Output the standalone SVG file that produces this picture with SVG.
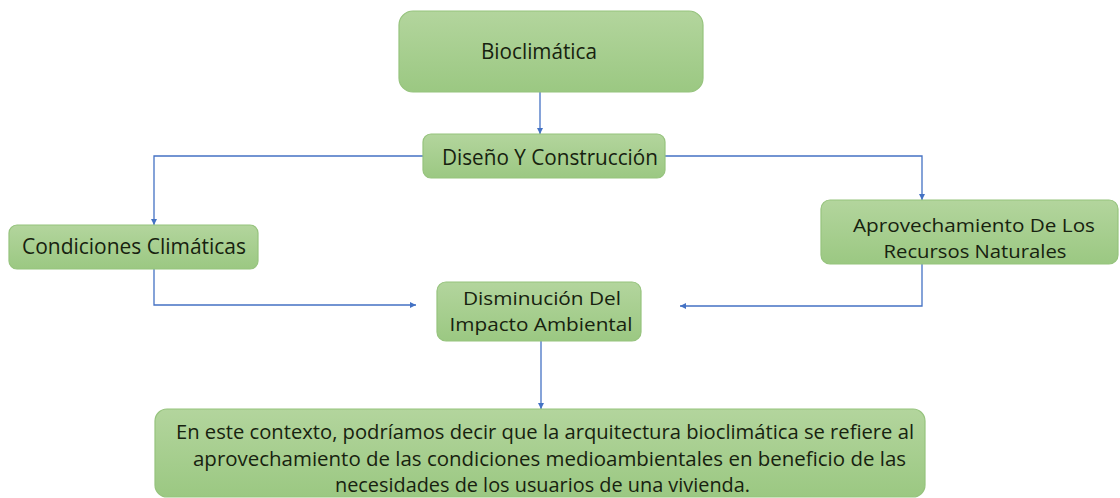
<svg xmlns="http://www.w3.org/2000/svg" width="1120" height="498" viewBox="0 0 1120 498">
<defs>
<linearGradient id="g" x1="0" y1="0" x2="0" y2="1">
<stop offset="0" stop-color="#b3d59d"/>
<stop offset="1" stop-color="#9bc882"/>
</linearGradient>
<marker id="ah" viewBox="0 0 10 10" refX="10" refY="5" markerWidth="6" markerHeight="6" markerUnits="userSpaceOnUse" orient="auto">
<path d="M0,0 L10,5 L0,10 z" fill="#4472c4"/>
</marker>
<style>
.box{fill:url(#g);stroke:#96c37d;stroke-width:1.2}
.t{font-family:"Open Sans","Liberation Sans",Arial,sans-serif;font-size:21px;fill:#17220f;text-anchor:middle}
.t2{font-family:"Open Sans","Liberation Sans",Arial,sans-serif;font-size:19px;fill:#17220f;text-anchor:middle}
.tb{font-family:"Open Sans","Liberation Sans",Arial,sans-serif;font-size:19.5px;fill:#17220f}
.c{fill:none;stroke:#4472c4;stroke-width:1.3;marker-end:url(#ah)}
</style>
</defs>
<rect width="1120" height="498" fill="#ffffff"/>
<g id="connectors">
<path class="c" d="M540,92 V134"/>
<path class="c" d="M423,156 H154 V225"/>
<path class="c" d="M665,156 H922 V200"/>
<path class="c" d="M154,269 V305 H416"/>
<path class="c" d="M922,264 V306 H680"/>
<path class="c" d="M541,341 V409"/>
</g>
<g id="bioclimatica">
<rect class="box" x="399" y="11" width="304" height="81" rx="14"/>
<text class="t" x="539" y="59" textLength="116" lengthAdjust="spacingAndGlyphs">Bioclimática</text>
</g>
<g id="diseno">
<rect class="box" x="423" y="134" width="242" height="44" rx="8"/>
<text class="t" x="550" y="165" textLength="216" lengthAdjust="spacingAndGlyphs">Diseño Y Construcción</text>
</g>
<g id="condiciones">
<rect class="box" x="9" y="225" width="249" height="44" rx="8"/>
<text class="t" x="134" y="254" textLength="224" lengthAdjust="spacingAndGlyphs">Condiciones Climáticas</text>
</g>
<g id="aprovechamiento">
<rect class="box" x="821" y="200" width="297" height="64" rx="9"/>
<text class="t2" x="974" y="232" textLength="242" lengthAdjust="spacingAndGlyphs">Aprovechamiento De Los</text>
<text class="t2" x="975" y="258" textLength="183" lengthAdjust="spacingAndGlyphs">Recursos Naturales</text>
</g>
<g id="disminucion">
<rect class="box" x="437" y="282" width="204" height="59" rx="9"/>
<text class="t2" x="542" y="305" textLength="158" lengthAdjust="spacingAndGlyphs">Disminución Del</text>
<text class="t2" x="541" y="331" textLength="183" lengthAdjust="spacingAndGlyphs">Impacto Ambiental</text>
</g>
<g id="conclusion">
<rect class="box" x="155" y="409" width="770" height="88" rx="12"/>
<text class="tb" x="176" y="439" textLength="738" lengthAdjust="spacingAndGlyphs">En este contexto, podríamos decir que la arquitectura bioclimática se refiere al</text>
<text class="tb" x="193" y="466" textLength="713" lengthAdjust="spacingAndGlyphs">aprovechamiento de las condiciones medioambientales en beneficio de las</text>
<text class="tb" x="335" y="492" textLength="415" lengthAdjust="spacingAndGlyphs">necesidades de los usuarios de una vivienda.</text>
</g>
</svg>
